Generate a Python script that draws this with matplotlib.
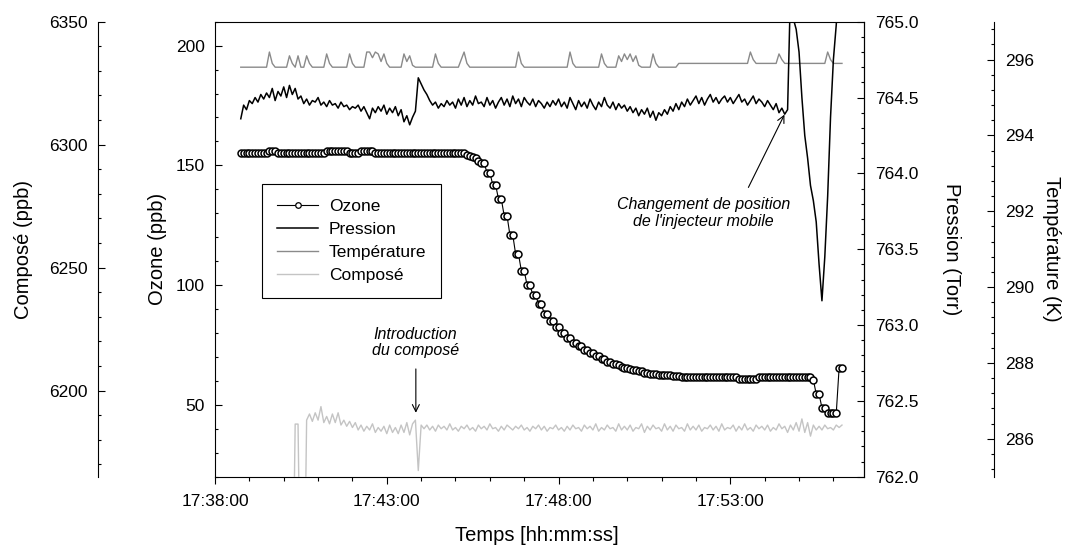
import matplotlib
matplotlib.use('Agg')
import matplotlib.pyplot as plt
import numpy as np
from matplotlib.ticker import MultipleLocator, FuncFormatter, FormatStrFormatter

plt.rcParams['font.family'] = ['Liberation Sans', 'DejaVu Sans']

# acquisition: one sample every 5 s, first sample at 17:38:45
T_START_MIN = 0.75      # minutes after 17:38:00
DT_MIN = 5 / 60.0
COMPOSE_FIRST = 18      # compose analyser starts at sample 18

ozone = [
    155, 155, 155, 155, 155, 155, 155, 155, 155, 155,
    156, 156, 156, 155, 155, 155, 155, 155, 155, 155,
    155, 155, 155, 155, 155, 155, 155, 155, 155, 155,
    156, 156, 156, 156, 156, 156, 156, 156, 155, 155,
    155, 155, 156, 156, 156, 156, 156, 155, 155, 155,
    155, 155, 155, 155, 155, 155, 155, 155, 155, 155,
    155, 155, 155, 155, 155, 155, 155, 155, 155, 155,
    155, 155, 155, 155, 155, 155, 155, 155, 155,
    154.5, 154, 153.5, 153, 152, 151, 151, 147, 147, 142,
    142, 136, 136, 129, 129, 121, 121, 113, 113, 106,
    106, 100, 100, 96, 96, 92, 92, 88, 88, 85,
    85, 82.5, 82.5, 80, 80, 78, 78, 76, 76, 74.5,
    74.5, 73, 73, 71.5, 71.5, 70.5, 70.5, 69, 69, 68,
    68, 67, 67, 66.5, 66, 65.5, 65.5, 65, 64.5, 64.5,
    64, 64, 63.5, 63.5, 63, 63, 63, 62.5, 62.5, 62.5,
    62.5, 62.5, 62, 62, 62, 61.5, 61.5, 61.5, 61.5, 61.5,
    61.5, 61.5, 61.5, 61.5, 61.5, 61.5, 61.5, 61.5, 61.5, 61.5,
    61.5, 61.5, 61.5, 61.5, 61.5,
    60.8, 60.8, 60.8, 60.8, 60.8, 60.8, 60.8,
    61.5, 61.5, 61.5, 61.5, 61.5, 61.5, 61.5, 61.5, 61.5, 61.5,
    61.5, 61.5, 61.5, 61.5, 61.5, 61.5, 61.5, 61.5, 61.5,
    60.5, 54.5, 54.5, 48.75, 48.75, 46.5, 46.5, 46.5, 46.5, 65.5, 65.5,
]

pression = [
    764.36, 764.45, 764.42, 764.48, 764.46, 764.50, 764.47, 764.52, 764.49, 764.53,
    764.50, 764.56, 764.48, 764.54, 764.51, 764.57, 764.50, 764.58, 764.52, 764.56,
    764.49, 764.51, 764.46, 764.49, 764.45, 764.48, 764.47, 764.50, 764.45, 764.47,
    764.44, 764.48, 764.45, 764.46, 764.43, 764.47, 764.44, 764.45, 764.42, 764.44,
    764.43, 764.45, 764.41, 764.44, 764.40, 764.36, 764.43, 764.40, 764.44, 764.41,
    764.45, 764.39, 764.43, 764.40, 764.44, 764.38, 764.42, 764.34, 764.38, 764.32,
    764.37, 764.41, 764.63, 764.59, 764.55, 764.52, 764.48, 764.45, 764.47, 764.43,
    764.46, 764.44, 764.48, 764.45, 764.47, 764.43, 764.49, 764.45, 764.50, 764.44,
    764.48, 764.45, 764.51, 764.46, 764.47, 764.44, 764.50, 764.45, 764.48, 764.43,
    764.47, 764.50, 764.45, 764.49, 764.44, 764.51, 764.46, 764.49, 764.44, 764.50,
    764.47, 764.45, 764.49, 764.44, 764.48, 764.46, 764.43, 764.47, 764.44, 764.48,
    764.45, 764.49, 764.44, 764.47, 764.43, 764.50, 764.46, 764.42, 764.48, 764.44,
    764.47, 764.43, 764.49, 764.45, 764.42, 764.47, 764.44, 764.50, 764.45, 764.43,
    764.47, 764.42, 764.46, 764.43, 764.45, 764.41, 764.44, 764.40, 764.43, 764.38,
    764.42, 764.39, 764.43, 764.37, 764.41, 764.35, 764.40, 764.38, 764.42, 764.39,
    764.44, 764.41, 764.46, 764.42, 764.47, 764.44, 764.49, 764.45, 764.48, 764.51,
    764.46, 764.50, 764.45, 764.49, 764.52, 764.47, 764.50, 764.46, 764.49, 764.51,
    764.47, 764.50, 764.46, 764.49, 764.52, 764.47, 764.49, 764.45, 764.48, 764.51,
    764.46, 764.49, 764.47, 764.44, 764.48, 764.45, 764.42, 764.46, 764.40, 764.43,
    764.39, 764.42, 765.20, 765.02, 764.95, 764.80, 764.50, 764.25, 764.10, 763.92,
    763.82, 763.68, 763.40, 763.16, 763.45, 763.85, 764.37, 764.75, 764.98, 765.30,
]

temperature = [
    295.8, 295.8, 295.8, 295.8, 295.8, 295.8, 295.8, 295.8, 295.8, 295.8,
    296.2, 295.9, 295.8, 295.8, 295.8, 295.8, 295.8, 296.1, 295.9, 295.8,
    296.1, 295.8, 295.8, 296.1, 295.9, 295.8, 295.8, 295.8, 295.8, 295.8,
    296.15, 295.9, 295.8, 295.8, 295.8, 295.8, 295.8, 295.8, 296.15, 295.9,
    295.8, 295.8, 295.8, 295.8, 296.2, 296.2, 296.05, 296.2, 296.15, 295.95,
    296.15, 295.9, 295.8, 295.8, 295.8, 295.8, 295.8, 296.15, 295.95, 296.1,
    295.85, 295.8, 295.8, 295.8, 295.8, 295.8, 295.8, 295.8, 296.15, 295.9,
    295.8, 295.8, 295.8, 295.8, 295.8, 295.8, 295.8, 296.0, 296.2, 295.9,
    295.8, 295.8, 295.8, 295.8, 295.8, 295.8, 295.8, 295.8, 295.8, 295.8,
    295.8, 295.8, 295.8, 295.8, 295.8, 295.8, 295.8, 296.2, 295.9, 295.8,
    295.8, 295.8, 295.8, 295.8, 295.8, 295.8, 295.8, 295.8, 295.8, 295.8,
    295.8, 295.8, 295.8, 295.8, 295.8, 296.2, 295.9, 295.8, 295.8, 295.8,
    295.8, 295.8, 295.8, 295.8, 295.8, 295.8, 296.15, 295.9, 295.8, 295.8,
    295.8, 295.8, 296.1, 295.95, 296.15, 296.0, 296.15, 295.95, 296.1, 295.85,
    295.8, 295.8, 295.8, 295.8, 296.15, 295.9, 295.8, 295.8, 295.8, 295.8,
    295.8, 295.8, 295.8, 295.9, 295.9, 295.9, 295.9, 295.9, 295.9, 295.9,
    295.9, 295.9, 295.9, 295.9, 295.9, 295.9, 295.9, 295.9, 295.9, 295.9,
    295.9, 295.9, 295.9, 295.9, 295.9, 295.9, 295.9, 295.9, 296.2, 296.0,
    295.9, 295.9, 295.9, 295.9, 295.9, 295.9, 295.9, 295.9, 296.15, 296.0,
    295.9, 295.9, 295.9, 295.9, 295.9, 295.9, 295.9, 295.9, 295.9, 295.9,
    295.9, 295.9, 295.9, 295.9, 295.9, 296.2, 296.0, 295.9, 295.9, 295.9,
    295.9,
]

compose = [
    6100, 6186.4, 6186.4, 6100, 6100, 6188,
    6190.5, 6187.5, 6191, 6188, 6193.5, 6187, 6189.5, 6186.5, 6190.5, 6187,
    6191, 6186, 6188, 6185.5, 6187.5, 6185, 6187,
    6184, 6186, 6183.5, 6185.5, 6184, 6186.5, 6183, 6185, 6183.5, 6185.5,
    6182.5, 6186, 6183, 6185, 6182.5, 6186, 6183, 6187, 6182, 6186.5,
    6188, 6167.5, 6186,
    6184.5, 6186, 6184, 6185.5, 6183.5, 6186, 6184.5, 6185.5, 6184, 6186.5,
    6184, 6185, 6183.5, 6185.5, 6184.5, 6186, 6184, 6185, 6183.5, 6186,
    6184.5, 6185.5, 6184, 6186.5, 6184.5, 6185, 6183.5, 6185.5, 6184, 6186,
    6185, 6184, 6185.5, 6184.5, 6186, 6184, 6185, 6183.5, 6185.5, 6184.5,
    6186, 6184, 6185.5, 6183.5, 6185, 6184.5, 6186, 6184, 6185, 6183.5,
    6185.5, 6184, 6186, 6184.5, 6185, 6183.5, 6186, 6184.5, 6185.5, 6184,
    6186.5, 6183.5, 6185, 6184, 6186, 6184.5, 6185, 6183.5, 6186.5, 6184,
    6185.5, 6184, 6186, 6183.5, 6185, 6184.5, 6186.5, 6183, 6185.5, 6184,
    6186, 6184.5, 6185, 6183.5, 6186.5, 6184, 6185.5, 6183.5, 6186, 6184.5,
    6185, 6183.5, 6186.5, 6184, 6185.5, 6184, 6186, 6183.5, 6185, 6184.5,
    6186, 6184, 6185.5, 6183.5, 6186.5, 6184, 6185, 6184.5, 6186, 6183.5,
    6185.5, 6184, 6186.5, 6184, 6185, 6183.5, 6186, 6184.5, 6185.5, 6184,
    6186, 6183.5, 6185, 6184, 6186.5, 6184.5, 6185.5, 6183, 6186, 6184,
    6187, 6183.5, 6188.5, 6183, 6187, 6181.5, 6186, 6184, 6185.5, 6184,
    6186, 6184.5, 6185, 6184, 6186, 6185, 6186,
]

t_oz = T_START_MIN + DT_MIN * np.arange(len(ozone))
t_p = T_START_MIN + DT_MIN * np.arange(len(pression))
t_t = T_START_MIN + DT_MIN * np.arange(len(temperature))
t_c = T_START_MIN + DT_MIN * (COMPOSE_FIRST + np.arange(len(compose)))

FS_TICK = 12.5
FS_LABEL = 14.5
LW_AX = 0.8


def time_label(x, pos):
    sec = int(round(x * 60)) + 17 * 3600 + 38 * 60
    return '{:02d}:{:02d}:{:02d}'.format(sec // 3600, (sec // 60) % 60, sec % 60)


def style_y(a, major, minor, fmt):
    a.yaxis.set_major_locator(MultipleLocator(major))
    a.yaxis.set_minor_locator(MultipleLocator(minor))
    a.yaxis.set_major_formatter(FormatStrFormatter(fmt))
    a.tick_params(axis='y', which='both', direction='in', width=LW_AX,
                  labelsize=FS_TICK, pad=7.5)
    a.tick_params(axis='y', which='major', length=4.8)
    a.tick_params(axis='y', which='minor', length=2.5)


fig = plt.figure(figsize=(10.66, 5.52), dpi=100)
ax = fig.add_axes([0.2017, 0.1364, 0.6091, 0.8243])
ax_c = ax.twinx()
ax_t = ax.twinx()
ax_p = ax.twinx()

for a in (ax, ax_c, ax_t, ax_p):
    for s in a.spines.values():
        s.set_linewidth(LW_AX)

# compose axis (offset, left)
ax_c.spines['left'].set_position(('axes', -0.1797))
ax_c.spines['left'].set_visible(True)
for side in ('right', 'top', 'bottom'):
    ax_c.spines[side].set_visible(False)
ax_c.yaxis.tick_left()
ax_c.yaxis.set_label_position('left')

# temperature axis (offset, right)
ax_t.spines['right'].set_position(('axes', 1.2002))
for side in ('left', 'top', 'bottom'):
    ax_t.spines[side].set_visible(False)
for side in ('left', 'top', 'bottom'):
    ax_p.spines[side].set_visible(False)

l_c, = ax_c.plot(t_c, compose, color='#c4c4c4', lw=1.0)
l_t, = ax_t.plot(t_t, temperature, color='#8a8a8a', lw=1.0)
l_p, = ax_p.plot(t_p, pression, color='black', lw=1.1)
l_o, = ax.plot(t_oz, ozone, color='black', lw=0.8, marker='o', ms=5,
               mfc='white', mec='black', mew=1.1)

ax.set_xlim(0, 18.9)
ax.set_ylim(20, 210)
ax_c.set_ylim(6165, 6350)
ax_p.set_ylim(762, 765)
ax_t.set_ylim(285, 297)

ax.xaxis.set_major_locator(MultipleLocator(5))
ax.xaxis.set_minor_locator(MultipleLocator(1))
ax.xaxis.set_major_formatter(FuncFormatter(time_label))
ax.tick_params(axis='x', which='both', direction='out', width=LW_AX,
               labelsize=FS_TICK, pad=7.5, top=False)
ax.tick_params(axis='x', which='major', length=4.8)
ax.tick_params(axis='x', which='minor', length=2.8)

style_y(ax, 50, 10, '%d')
style_y(ax_c, 50, 10, '%d')
style_y(ax_p, 0.5, 0.1, '%.1f')
style_y(ax_t, 2, 0.4, '%d')

ax.set_xlabel('Temps [hh:mm:ss]', fontsize=FS_LABEL)
ax.xaxis.set_label_coords(0.496, -0.108)
ax.set_ylabel('Ozone (ppb)', fontsize=FS_LABEL)
ax.yaxis.set_label_coords(-0.0739, 0.5)
ax_c.set_ylabel('Composé (ppb)', fontsize=FS_LABEL)
ax_c.yaxis.set_label_coords(-0.2803, 0.5)
ax_p.set_ylabel('Pression (Torr)', fontsize=FS_LABEL, rotation=-90, va='center')
ax_p.yaxis.set_label_coords(1.135, 0.5)
ax_t.set_ylabel('Température (K)', fontsize=FS_LABEL, rotation=-90, va='center')
ax_t.yaxis.set_label_coords(1.289, 0.5)

# annotations (ozone axis coordinates)
ax.text(5.83, 76, 'Introduction\ndu composé', ha='center', va='center',
        fontsize=11.5, style='italic', linespacing=1.15)
ax.annotate('', xy=(5.846, 46.7), xytext=(5.846, 65),
            arrowprops=dict(arrowstyle='->,head_length=0.5,head_width=0.25',
                            color='black', lw=0.8, shrinkA=0, shrinkB=0))
ax.text(14.215, 130.2, "Changement de position\nde l'injecteur mobile",
        ha='center', va='center', fontsize=11.5, style='italic', linespacing=1.15)
ax.annotate('', xy=(16.575, 171.2), xytext=(15.526, 140.8),
            arrowprops=dict(arrowstyle='->,head_length=0.5,head_width=0.25',
                            color='black', lw=0.8, shrinkA=0, shrinkB=0))

leg = ax_p.legend([l_o, l_p, l_t, l_c], ['Ozone', 'Pression', 'Température', 'Composé'],
                  loc='upper left', bbox_to_anchor=(0.0724, 0.3905, 0.2757, 0.2527),
                  bbox_transform=ax.transAxes, mode='expand', borderaxespad=0,
                  fontsize=12.5, labelspacing=0.46, borderpad=0.85, handlelength=2.4,
                  handletextpad=0.6, fancybox=False, framealpha=1, edgecolor='black')
leg.get_frame().set_linewidth(LW_AX)
for lh in leg.get_lines():
    lh.set_markersize(4)
    lh.set_markeredgewidth(0.9)

fig.savefig('out.png', dpi=100)
